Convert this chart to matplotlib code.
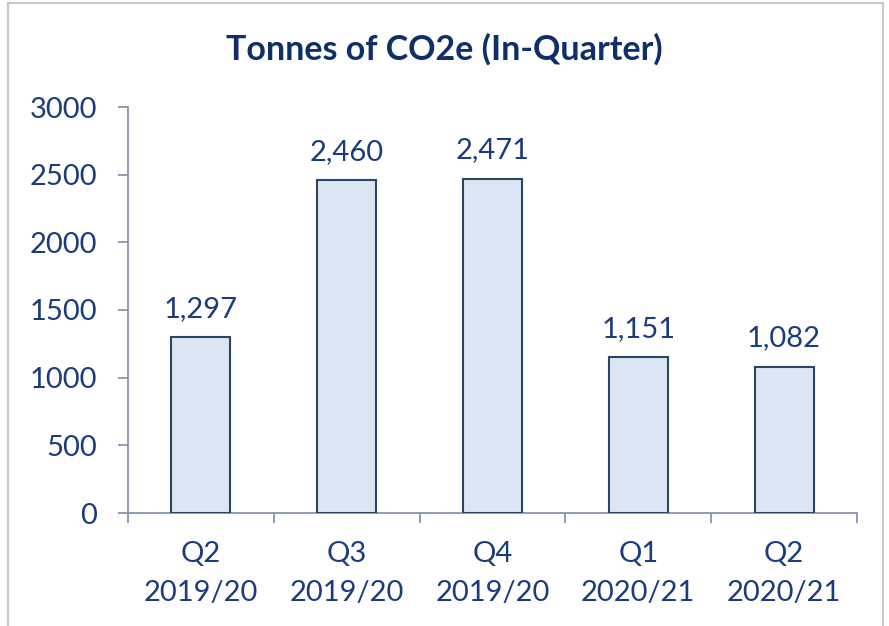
import matplotlib
matplotlib.use("Agg")
import matplotlib.pyplot as plt
from matplotlib.patches import Rectangle

categories = ["Q2\n2019/20", "Q3\n2019/20", "Q4\n2019/20", "Q1\n2020/21", "Q2\n2020/21"]
values = [1297, 2460, 2471, 1151, 1082]
yticks = [0, 500, 1000, 1500, 2000, 2500, 3000]

plt.rcParams['font.family'] = ['Lato', 'DejaVu Sans']
text_color = "#1b3c7c"
axis_color = "#8a93ad"

fig = plt.figure(figsize=(8.89, 6.26), dpi=100)
fig.patches.append(Rectangle((8/889, -0.01), (883-8)/889, 1.01-3/626, transform=fig.transFigure,
                             fill=False, edgecolor="#c8c8c8", linewidth=1.5))
ax = fig.add_axes([128/889, 1-513/626, (857-128)/889, (513-107)/626])

x = list(range(len(values)))
ax.bar(x, values, width=0.405, color="#dce6f2", edgecolor="#2c4468", linewidth=1.5, zorder=3)
for xi, v in zip(x, values):
    ax.annotate(f"{v:,}", (xi, v), xytext=(0, 14.5), textcoords="offset points",
                ha="center", va="baseline", fontsize=21, color=text_color)

ax.set_xlim(-0.5, len(values) - 0.5)
ax.set_ylim(0, 3000)
ax.set_yticks(yticks)
ax.set_yticklabels([str(t) for t in yticks])
ax.set_xticks([i - 0.5 for i in range(len(values) + 1)])
ax.set_xticklabels([])
ax.set_xticks(x, minor=True)
ax.set_xticklabels(categories, minor=True, linespacing=1.62)
ax.tick_params(axis="x", which="minor", length=0, pad=20, labelsize=21, labelcolor=text_color)
ax.tick_params(axis="x", which="major", length=7, width=1.3, color=axis_color, direction="out")
ax.tick_params(axis="y", length=7, width=1.3, color=axis_color, direction="out", labelsize=21,
               labelcolor=text_color, pad=15)
for s in ["top", "right"]:
    ax.spines[s].set_visible(False)
for s in ["left", "bottom"]:
    ax.spines[s].set_color(axis_color)
    ax.spines[s].set_linewidth(1.3)

fig.text(0.5, 1 - 49/626, "Tonnes of CO2e (In-Quarter)", ha="center", va="center",
         fontsize=24.5, fontweight="bold", color="#0f2f6b")

fig.savefig("out.png", dpi=100)
